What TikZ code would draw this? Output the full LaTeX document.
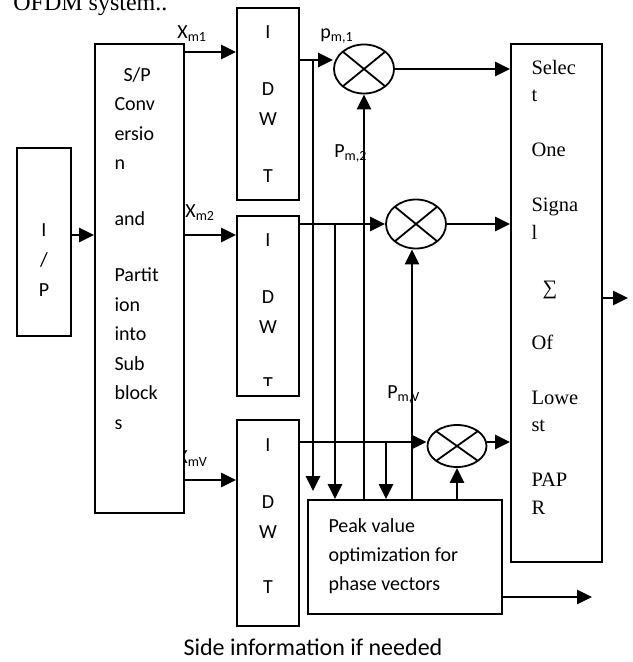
\documentclass[tikz,border=0pt]{standalone}
\usepackage{fontspec}
\setmainfont{Liberation Serif}
\setsansfont{Carlito}
\usetikzlibrary{shapes.geometric,arrows.meta,calc}
\begin{document}
\begin{tikzpicture}[x=0.5pt,y=-0.5pt,
  blk/.style={draw,line width=0.9pt,fill=white,inner sep=0pt},
  txt/.style={inner sep=0pt,font=\sffamily\fontsize{10}{15}\selectfont},
  lbl/.style={inner sep=0pt,font=\sffamily\fontsize{10}{12}\selectfont,anchor=base west},
  mult/.style={draw,ellipse,line width=0.9pt,inner sep=0pt,minimum width=30pt,minimum height=24.5pt,
    path picture={\draw[line width=0.9pt] (path picture bounding box.north west) -- (path picture bounding box.south east)
      (path picture bounding box.north east) -- (path picture bounding box.south west);}},
  arr/.style={line width=1.25pt,-{Triangle[length=7.5pt,width=7pt]}}]
\useasboundingbox (0,0) rectangle (632,662);
\node[anchor=base west,inner sep=0pt,font=\fontsize{12}{14}\selectfont] (title) at (13,11) {OFDM system..};
\node[lbl] (xm1) at (177,39) {X\textsubscript{m1}};
\node[lbl] (xm2) at (185,218) {X\textsubscript{m2}};
\node[lbl] (xmv) at (177,463) {X\textsubscript{mV}};
\node[lbl] (pm1) at (320,39) {p\textsubscript{m,1}};
\node[lbl] (pm2) at (334,158) {P\textsubscript{m,2}};
\node[lbl] (pmv) at (387,398) {P\textsubscript{m,V}};

\node[blk,minimum width=27pt,minimum height=94pt] (ip) at (44,242) {};
\node[blk,minimum width=44.5pt,minimum height=234.5pt] (sp) at (139.5,278.5) {};
\node[blk,minimum width=31pt,minimum height=96pt] (idwt1) at (268,104) {};
\node[blk,minimum width=31pt,minimum height=90pt] (idwt2) at (268,306) {};
\node[blk,minimum width=31pt,minimum height=103pt] (idwt3) at (268,523) {};
\node[blk,minimum width=45.5pt,minimum height=259pt] (sel) at (556.5,303) {};
\node[blk,minimum width=97pt,minimum height=57pt] (peak) at (405,557) {};
\node[mult] (m1) at (364,69) {};
\node[mult] (m2) at (416,224) {};
\node[mult,minimum width=29.5pt,minimum height=21pt] (m3) at (457,446) {};

\node[txt,align=center,anchor=base] (iptxt) at ([yshift=-74.5pt]ip.north) {I\\/\\P};
\node[txt,align=left,anchor=base west,font=\sffamily\fontsize{10}{14.75}\selectfont] (sptxt)
  at ([xshift=10pt,yshift=-193pt]sp.north west)
  {\hspace*{4.5pt}S/P\\Conv\\ersio\\n\\[13pt]and\\[13.5pt]Partit\\ion\\into\\Sub\\block\\s};
\node[txt,align=center,anchor=base] (idwt1txt) at ([yshift=-87.5pt]idwt1.north) {I\\[13.5pt]D\\W\\[13.5pt]T};
\begin{scope}
\clip (idwt2.north west) rectangle ([yshift=5.5pt]idwt2.south east);
\node[txt,align=center,anchor=base] (idwt2txt) at ([yshift=-87.5pt]idwt2.north) {I\\[13.5pt]D\\W\\[13.5pt]T};
\end{scope}
\node[txt,align=center,anchor=base] (idwt3txt) at ([yshift=-87pt]idwt3.north) {I\\[13.5pt]D\\W\\[12.5pt]T};
\node[inner sep=0pt,align=left,anchor=base west,font=\fontsize{10.25}{13.75}\selectfont] (seltxt)
  at ([xshift=10.5pt,yshift=-235.5pt]sel.north west)
  {Selec\\t\\[13.75pt]One\\[13.75pt]Signa\\l\\[13.75pt]\hspace*{5.5pt}∑\\[13.75pt]Of\\[13.75pt]Lowe\\st\\[13.75pt]PAP\\R};
\node[txt,align=left,anchor=base west,font=\sffamily\fontsize{10}{14.5}\selectfont] (peaktxt)
  at ([xshift=10.5pt,yshift=-45.5pt]peak.north west) {Peak value\\optimization for\\phase vectors};
\node[inner sep=0pt,anchor=base,font=\sffamily\fontsize{12}{14}\selectfont] (side) at (313,655) {Side information if needed};

\coordinate (j1) at (313,60);
\coordinate (j2) at (335,224);
\coordinate (j3) at (386,442);
\coordinate (out) at (628,298);
\coordinate (sideout) at (592,597);

\draw[arr] (ip.east |- 0,235) -- (sp.west |- 0,235);
\draw[arr] (sp.east |- 0,52) -- (idwt1.west |- 0,52);
\draw[arr] (sp.east |- 0,235) -- (idwt2.west |- 0,235);
\draw[arr] (sp.east |- 0,480) -- (idwt3.west |- 0,480);
\draw[arr] (idwt1.east |- j1) -- (m1.west |- j1);
\draw[arr] (j1) -- ([yshift=4pt]j1 |- peak.north);
\draw[arr] (idwt2.east |- m2.west) -- (m2.west);
\draw[arr] (j2) -- (j2 |- peak.north);
\draw[arr] (idwt3.east |- j3) -- (m3.west |- j3);
\draw[arr] (j3) -- (j3 |- peak.north);
\draw[arr] (peak.north -| m1.south) -- (m1.south);
\draw[arr] (peak.north -| 412,0) -- (m2.south -| 412,0);
\draw[arr] (peak.north -| m3.south) -- (m3.south);
\draw[arr] (m1.east) -- (sel.west |- m1.east);
\draw[arr] (m2.east) -- (sel.west |- m2.east);
\draw[arr] (m3.east |- j3) -- (sel.west |- j3);
\draw[arr] (sel.east |- out) -- (out);
\draw[arr] (peak.east |- sideout) -- (sideout);
\end{tikzpicture}
\end{document}
